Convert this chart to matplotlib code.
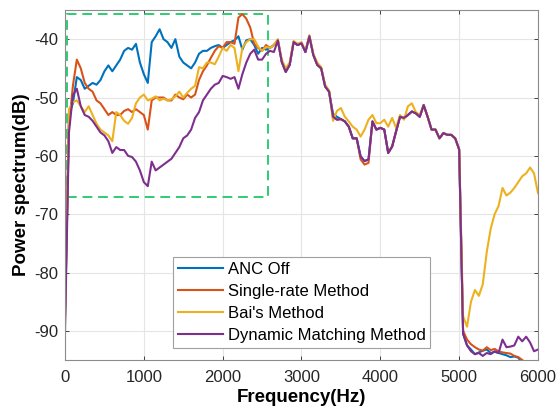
import numpy as np
import matplotlib
matplotlib.use('Agg')
import matplotlib.pyplot as plt
from matplotlib.patches import Rectangle

matplotlib.rcParams['font.family'] = ['Liberation Sans', 'DejaVu Sans']
matplotlib.rcParams['axes.unicode_minus'] = False

# frequency bins (Hz)
freq = np.arange(0, 6001, 50)

anc_off = [
    -88, -53, -51, -46.5, -47, -48.5, -48, -47.5, -47.8, -47,
    -45.5, -44.5, -45.5, -44.5, -43.5, -42, -41.5, -41.8, -40.8, -44,
    -46, -47.5, -40.5, -39.5, -38.3, -40, -40.5, -41.5, -40, -43,
    -44, -44.5, -45, -44, -42.5, -42, -42, -41.5, -41.2, -41,
    -41.5, -41, -40.5, -40.2, -39.5, -41.8, -40.2, -40, -41, -42.5,
    -41.5, -41.8, -41.5, -41,
    -40.2, -43.9, -45.6, -44.4, -40.5, -41, -40.7, -42.2, -39.5, -42.7,
    -44.4, -45, -48.1, -49, -52.8, -53.3, -53.7, -54.1, -55, -57,
    -57, -60.1, -60.9, -60.6, -54.1, -55.5, -55.2, -55.5, -59.5, -58.4,
    -55.8, -53.3, -53.5, -53, -52.4, -52.7, -53.3, -51.3, -53.3, -55.5,
    -55.5, -57, -56.1, -56.4, -56.4, -57, -58.9,
    -90.5, -92.5, -93.2, -94, -93.7, -93.4, -93.2, -93.8, -93.6, -93.8,
    -94, -94.2, -94.5, -94.4, -94.6, -95.5, -96, -96.5, -97, -97]

single_rate = [
    -87, -55, -48, -43.5, -45, -47.5, -48.5, -49, -50.5, -51,
    -52, -53, -52.5, -53, -53, -52.3, -52, -52.5, -52, -52.5,
    -53, -55.5, -50.5, -50, -50, -50, -50.5, -50.5, -49.5, -50,
    -50.3, -49.5, -50, -49.5, -47, -45.5, -44.5, -43.2, -42, -41.2,
    -41.5, -40.5, -40.5, -40.8, -36.3, -35.7, -36.5, -38, -40.8, -41.5,
    -42, -41, -41.5, -41,
    -40.2, -43.9, -45.6, -44.4, -40.5, -41, -40.7, -42.2, -39.5, -42.7,
    -44.4, -45, -48.1, -49, -53.3, -53.8, -53.7, -54.1, -55, -57,
    -57, -60.6, -61.5, -61.2, -54.1, -55.5, -55.2, -55.5, -59.5, -58.4,
    -55.8, -53.3, -53.5, -53, -52.4, -52.7, -53.3, -51.3, -53.3, -55.5,
    -55.5, -57, -56.1, -56.4, -56.4, -57, -58.9,
    -90, -91.5, -92.3, -92.8, -93.2, -93.4, -92.8, -93.3, -93.1, -93.5,
    -93.7, -93.8, -93.9, -94.3, -94.5, -95, -95.5, -96, -96.5, -97]

bai_method = [
    -88, -52, -50.8, -50.5, -51.5, -52.5, -51.5, -53, -54.5, -55.5,
    -56, -56.5, -57.5, -52.5, -53, -54, -54.5, -53.5, -51, -50,
    -49.5, -50.5, -50.2, -49.8, -50.5, -50.2, -50.5, -50.3, -49.8, -49,
    -50, -49.2, -48.5, -48, -44.8, -45, -44, -44, -44.3, -43,
    -41.5, -42, -41, -41.5, -45.5, -41.5, -40.5, -40, -40, -41.3,
    -42, -41.3, -41.5, -41,
    -40, -43.5, -45, -44, -40.3, -40.8, -40.5, -42, -39.3, -42.5,
    -44, -44.8, -47.8, -48.8, -54, -52.3, -51.8, -53.3, -54.1, -55,
    -55.5, -56.7, -55.5, -53.8, -53, -54.4, -54.4, -53.8, -55, -53.5,
    -55.2, -53, -53.8, -51.5, -51, -52.5, -53, -51.3, -53.3, -55.5,
    -55.5, -57, -56.1, -56.4, -56.4, -57, -58.9,
    -87.5, -89.3, -85, -83, -84, -82, -76.5, -72.5, -70, -68.6,
    -65.5, -66.8, -66.3, -65.5, -64.5, -63.5, -63, -62, -63, -66.4]

dynamic_matching = [
    -90, -56, -49.6, -48.5, -51.5, -53, -53.3, -54, -55, -56,
    -56.5, -57.5, -59.5, -58.5, -59, -59, -60, -60.2, -61, -62.5,
    -64.5, -65.2, -61, -62.5, -62, -61.5, -61, -60.5, -59.5, -58.5,
    -57, -56.5, -55.5, -53.5, -52.5, -50.5, -49.5, -48.5, -47.8, -47.5,
    -46.3, -46.5, -46.8, -46.5, -48.5, -46, -44, -42.5, -41.8, -43.5,
    -43.5, -42.5, -42, -42.2,
    -40.2, -43.9, -45.6, -44.4, -40.5, -41, -40.7, -42.2, -39.5, -42.7,
    -44.4, -45, -48.1, -49, -53.3, -53.8, -53.7, -54.1, -55, -57,
    -57, -60.1, -60.9, -60.6, -54.1, -55.5, -55.2, -55.5, -59.5, -58.4,
    -55.8, -53.3, -53.5, -53, -52.4, -52.7, -53.3, -51.3, -53.3, -55.5,
    -55.5, -57, -56.1, -56.4, -56.4, -57, -58.9,
    -90.5, -92.5, -93.5, -94, -93.8, -94.3, -93.8, -94, -93.5, -93.8,
    -91.5, -92.8, -92.7, -92.5, -91, -91.8, -91, -92, -93.5, -93.2]

labels = ['ANC Off', 'Single-rate Method', "Bai's Method", 'Dynamic Matching Method']
colors = ['#0072BD', '#D95319', '#EDB120', '#7E2F8E']

# zoomed region marked on the plot: (f0, f1, p0, p1)
zoom_box = (20, 2580, -67, -35.7)

fig = plt.figure(figsize=(5.59, 4.19), dpi=100)
ax = fig.add_axes([0.1163, 0.1408, 0.8461, 0.8353])

for series, lab, col in zip([anc_off, single_rate, bai_method, dynamic_matching], labels, colors):
    ax.plot(freq, series, color=col, linewidth=1.5, label=lab)

f0, f1, p0, p1 = zoom_box
ax.add_patch(Rectangle((f0, p0), f1 - f0, p1 - p0, fill=False,
                       edgecolor='#2ECC71', linewidth=1.4, linestyle=(0, (5, 3))))

ax.set_xlim(0, 6000)
ax.set_ylim(-95, -35)
ax.set_xticks(range(0, 6001, 1000))
ax.set_yticks(range(-90, -39, 10))
ax.grid(True, color='#E5E5E5', linewidth=0.8)
ax.set_axisbelow(True)
ax.tick_params(direction='in', length=3, labelsize=12, colors='#262626',
               top=True, right=True, width=0.6)
ax.tick_params(axis='x', pad=7)
ax.tick_params(axis='y', pad=5)
for sp in ax.spines.values():
    sp.set_color('#8C8C8C')
    sp.set_linewidth(0.8)

ax.set_xlabel('Frequency(Hz)', fontsize=13.5, fontweight='bold', labelpad=3)
ax.set_ylabel('Power spectrum(dB)', fontsize=13.5, fontweight='bold', labelpad=3)

leg = ax.legend(loc='lower center', bbox_to_anchor=(0.501, 0.034), fontsize=12,
                fancybox=False, framealpha=1, edgecolor='#A0A0A0',
                handlelength=2.7, borderpad=0.3, labelspacing=0.42,
                handletextpad=0.25, borderaxespad=0)
leg.get_frame().set_linewidth(0.8)

plt.savefig('out.png', dpi=100)
